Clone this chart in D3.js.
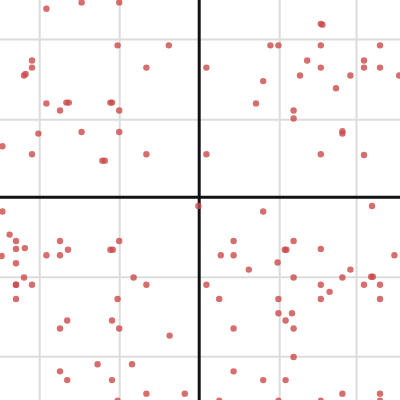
<!DOCTYPE html>
<html>
<head>
<meta charset="utf-8">
<script src="https://cdn.jsdelivr.net/npm/d3@7"></script>
<style>
html,body{margin:0;padding:0;background:#fff;}
svg{display:block;}
</style>
</head>
<body>
<svg id="chart" width="400" height="400"></svg>
<script>
const xValues = [
  -1.91,-1.47,-1.00,-1.02,-0.38,-2.09,-2.09,-0.66,-2.19,-2.17,-1.91,-1.74,-1.66,-1.63,-1.11,-1.09,-1.00,-2.01,-1.47,-1.00,-2.46,-2.09,-0.66,-1.21,-1.18,
  1.52,1.54,0.89,0.99,1.52,2.26,0.09,1.35,1.52,2.06,2.06,2.26,1.26,1.89,2.50,0.80,1.71,0.71,1.18,1.18,1.79,1.79,0.09,1.52,2.06,
  -2.46,-0.01,-2.37,-2.29,-2.29,-2.18,-1.74,-1.64,-1.11,-1.08,-1.00,-2.47,-1.91,-1.74,-2.29,-2.19,-2.29,-2.29,-2.09,-0.82,-0.66,-2.29,-1.02,-1.65,-1.09,-1.74,-1.00,-0.37,-1.27,-0.84,-1.74,-1.65,-1.09,-0.66,-0.18,-1.02,
  0.80,2.16,0.43,1.18,1.07,1.09,1.52,0.27,0.43,2.44,0.98,0.62,1.89,1.18,1.79,2.15,2.17,0.09,1.52,1.63,2.06,2.26,0.25,0.99,1.52,2.26,0.99,1.16,1.08,0.43,1.18,1.18,0.43,0.80,1.08,1.79,2.26,0.25,0.99,1.52,2.26
];
const yValues = [
  2.37,2.45,2.45,1.91,1.91,1.72,1.63,1.63,1.53,1.55,1.18,1.09,1.19,1.19,1.19,1.19,1.09,0.80,0.82,0.82,0.64,0.54,0.54,0.46,0.46,
  2.18,2.17,1.91,1.91,1.91,1.91,1.63,1.72,1.63,1.72,1.63,1.63,1.53,1.53,1.53,1.46,1.37,1.18,1.09,0.99,0.83,0.80,0.54,0.54,0.53,
  -0.18,-0.11,-0.47,-0.55,-0.65,-0.64,-0.55,-0.66,-0.66,-0.66,-0.55,-0.74,-0.73,-0.73,-0.83,-1.01,-1.10,-1.10,-1.10,-1.01,-1.10,-1.28,-1.28,-1.55,-1.55,-1.65,-1.65,-1.74,-2.10,-2.10,-2.19,-2.30,-2.30,-2.47,-2.47,-2.56,
  -0.18,-0.11,-0.55,-0.55,-0.66,-0.66,-0.65,-0.73,-0.73,-0.73,-0.82,-0.91,-0.91,-1.01,-1.01,-1.00,-1.00,-1.10,-1.10,-1.19,-1.10,-1.10,-1.28,-1.28,-1.28,-1.28,-1.46,-1.46,-1.55,-1.65,-1.65,-2.01,-2.19,-2.30,-2.30,-2.47,-2.47,-2.56,-2.56,-2.56,-2.56
];
const gridX = [-2, -1, 1, 1.96];
const gridY = [1.99, 0.98, -1, -2];

const W = 400, H = 400;
const svg = d3.select("#chart");
const x = d3.scaleLinear().domain([-2.49, 2.51]).range([0, W]);
const y = d3.scaleLinear().domain([2.48, -2.55]).range([0, H]);

// grid
const gx = svg.append("g").attr("transform", `translate(0,${H})`)
  .call(d3.axisBottom(x).tickValues(gridX).tickSize(-H).tickFormat(""));
gx.select(".domain").remove();
gx.selectAll("line").attr("stroke", "#dcdcdc").attr("stroke-width", 2);

const gy = svg.append("g")
  .call(d3.axisLeft(y).tickValues(gridY).tickSize(-W).tickFormat(""));
gy.select(".domain").remove();
gy.selectAll("line").attr("stroke", "#dcdcdc").attr("stroke-width", 2);

// central axes
svg.append("line").attr("x1", x(0)).attr("x2", x(0)).attr("y1", 0).attr("y2", H)
  .attr("stroke", "#111").attr("stroke-width", 3);
svg.append("line").attr("x1", 0).attr("x2", W).attr("y1", y(0)).attr("y2", y(0))
  .attr("stroke", "#111").attr("stroke-width", 3);

// points
const pts = xValues.map((v, i) => ({x: v, y: yValues[i]}));
svg.append("g").selectAll("circle").data(pts).join("circle")
  .attr("cx", d => x(d.x)).attr("cy", d => y(d.y)).attr("r", 3.2)
  .attr("fill", "#cc4a4a").attr("fill-opacity", 0.8);
</script>
</body>
</html>
